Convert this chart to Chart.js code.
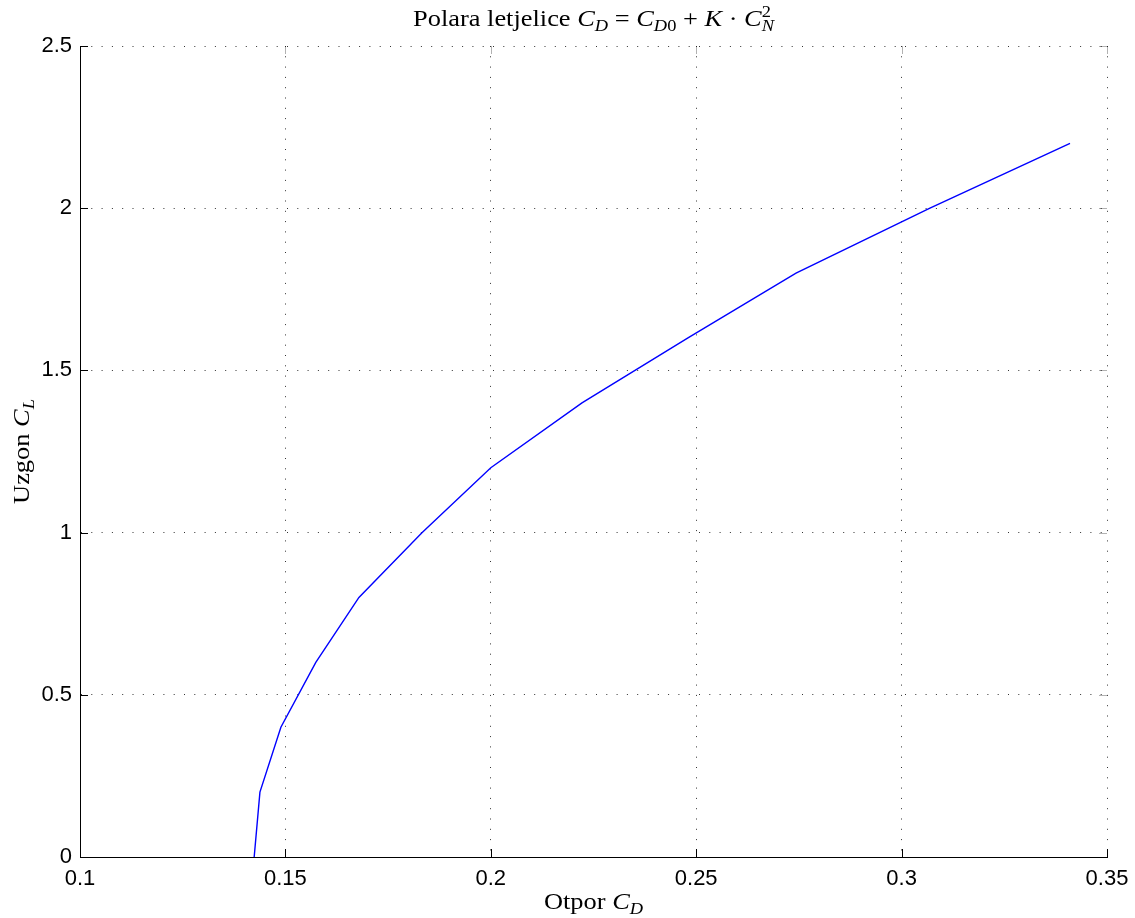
<!DOCTYPE html>
<html>
<head>
<meta charset="utf-8">
<script src="https://cdn.jsdelivr.net/npm/chart.js@4"></script>
<style>
  html, body { margin: 0; padding: 0; background: #fff; }
  #wrap { width: 1135px; height: 918px; position: relative; }
</style>
</head>
<body>
<div id="wrap"><canvas id="c" width="1135" height="918"></canvas></div>
<script>
// ---- data ----
const dragCD = [0.1424, 0.1438, 0.1489, 0.1574, 0.1679, 0.1833, 0.2000, 0.2222, 0.2480, 0.2743, 0.3069, 0.3410];
const liftCL = [0.0, 0.2, 0.4, 0.6, 0.8, 1.0, 1.2, 1.4, 1.6, 1.8, 2.0, 2.2];
const xTickValues = [0.1, 0.15, 0.2, 0.25, 0.3, 0.35];
const xTickLabels = ['0.1', '0.15', '0.2', '0.25', '0.3', '0.35'];
const yTickValues = [0, 0.5, 1, 1.5, 2, 2.5];
const yTickLabels = ['0', '0.5', '1', '1.5', '2', '2.5'];

// rich-text segments (title / axis labels)
const titleSegs = [
  {t: 'Polara letjelice '}, {t: 'C', it: true}, {t: 'D', it: true, sub: true},
  {t: ' = '}, {t: 'C', it: true}, {t: 'D', it: true, sub: true}, {t: '0', sub: true},
  {t: ' + '}, {t: 'K', it: true}, {t: ' · '}, {t: 'C', it: true},
  {t: '2', sup: true}, {t: 'N', it: true, sub: true, stack: true}
];
const xLabelSegs = [{t: 'Otpor '}, {t: 'C', it: true}, {t: 'D', it: true, sub: true}];
const yLabelSegs = [{t: 'Uzgon '}, {t: 'C', it: true}, {t: 'L', it: true, sub: true}];

const SERIF = '"Liberation Serif", "Times New Roman", serif';
const SANS = '"Liberation Sans", Arial, sans-serif';

function segFont(s, size) {
  const sz = (s.sub || s.sup) ? size * 0.7 : size;
  return (s.it ? 'italic ' : '') + sz + 'px ' + SERIF;
}
function layoutSegs(ctx, segs, size) {
  let x = 0, prevStart = 0, prevW = 0;
  const out = [];
  for (const s of segs) {
    ctx.font = segFont(s, size);
    const w = ctx.measureText(s.t).width;
    let sx, adv;
    if (s.stack) { sx = prevStart; adv = Math.max(0, w - prevW); }
    else { sx = x; adv = w; }
    let dy = 0;
    if (s.sub) dy = size * 0.22;
    if (s.sup) dy = -size * 0.38;
    out.push({s, x: sx, dy, font: ctx.font});
    if (!s.stack) { prevStart = sx; prevW = w; }
    x += adv;
  }
  return {items: out, width: x};
}
function drawRich(ctx, segs, cx, baseline, size, rotate, hscale) {
  ctx.save();
  ctx.translate(cx, baseline);
  if (rotate) ctx.rotate(-Math.PI / 2);
  ctx.scale(hscale || 1, 1);
  const L = layoutSegs(ctx, segs, size);
  ctx.fillStyle = '#000';
  ctx.textBaseline = 'alphabetic';
  ctx.textAlign = 'left';
  for (const it of L.items) {
    ctx.font = it.font;
    ctx.fillText(it.s.t, it.x - L.width / 2, it.dy);
  }
  ctx.restore();
}

const decorPlugin = {
  id: 'decor',
  afterDraw(chart) {
    const ctx = chart.ctx;
    const a = chart.chartArea;
    const xs = chart.scales.x, ys = chart.scales.y;
    ctx.save();
    // inward tick marks
    ctx.strokeStyle = '#000';
    ctx.lineWidth = 1;
    ctx.beginPath();
    for (const v of xTickValues) {
      const px = Math.round(xs.getPixelForValue(v)) + 0.5;
      ctx.moveTo(px, a.bottom); ctx.lineTo(px, a.bottom - 8);
    }
    for (const v of yTickValues) {
      const py = Math.round(ys.getPixelForValue(v)) + 0.5;
      ctx.moveTo(a.left, py); ctx.lineTo(a.left + 8, py);
    }
    ctx.stroke();
    ctx.strokeStyle = 'rgba(0,0,0,0.3)';
    ctx.beginPath();
    for (const v of xTickValues) {
      const px = Math.round(xs.getPixelForValue(v)) + 0.5;
      ctx.moveTo(px, a.top); ctx.lineTo(px, a.top + 8);
    }
    for (const v of yTickValues) {
      const py = Math.round(ys.getPixelForValue(v)) + 0.5;
      ctx.moveTo(a.right, py); ctx.lineTo(a.right - 8, py);
    }
    ctx.stroke();
    ctx.restore();
    const cx = (a.left + a.right) / 2;
    const cy = (a.top + a.bottom) / 2;
    drawRich(ctx, titleSegs, cx, 26, 24, false, 1.1);
    drawRich(ctx, xLabelSegs, cx, 909, 24, false, 1.1);
    drawRich(ctx, yLabelSegs, 29, cy, 24, true, 1.1);
  }
};

new Chart(document.getElementById('c'), {
  type: 'scatter',
  data: {
    datasets: [{
      data: dragCD.map((v, i) => ({x: v, y: liftCL[i]})),
      showLine: true,
      borderColor: '#0000ff',
      borderWidth: 1.4,
      pointRadius: 0,
      tension: 0,
      fill: false
    }]
  },
  options: {
    responsive: false,
    animation: false,
    layout: { padding: { top: 46, right: 28, left: 0, bottom: 0 } },
    plugins: { legend: { display: false }, tooltip: { enabled: false }, title: { display: false } },
    scales: {
      x: {
        type: 'linear', min: 0.1, max: 0.35,
        afterBuildTicks(s) { s.ticks = xTickValues.map(v => ({value: v})); },
        afterFit(s) { s.height = 61; s.paddingLeft = 0; s.paddingRight = 0; },
        ticks: {
          callback: (v, i) => xTickLabels[i],
          font: { family: SANS, size: 22 },
          color: '#000', padding: 9, maxRotation: 0, autoSkip: false
        },
        grid: { color: '#333', lineWidth: 1, drawTicks: false },
        border: { display: true, color: '#000', width: 1, dash: [1, 9.3] }
      },
      y: {
        type: 'linear', min: 0, max: 2.5,
        afterBuildTicks(s) { s.ticks = yTickValues.map(v => ({value: v})); },
        afterFit(s) { s.width = 80; s.paddingTop = 0; s.paddingBottom = 0; },
        ticks: {
          callback: (v, i) => yTickLabels[i],
          font: { family: SANS, size: 22 },
          color: '#000', padding: 8, autoSkip: false
        },
        grid: { color: '#333', lineWidth: 1, drawTicks: false },
        border: { display: true, color: '#000', width: 1, dash: [1, 9.3] }
      }
    }
  },
  plugins: [decorPlugin]
});
</script>
</body>
</html>
